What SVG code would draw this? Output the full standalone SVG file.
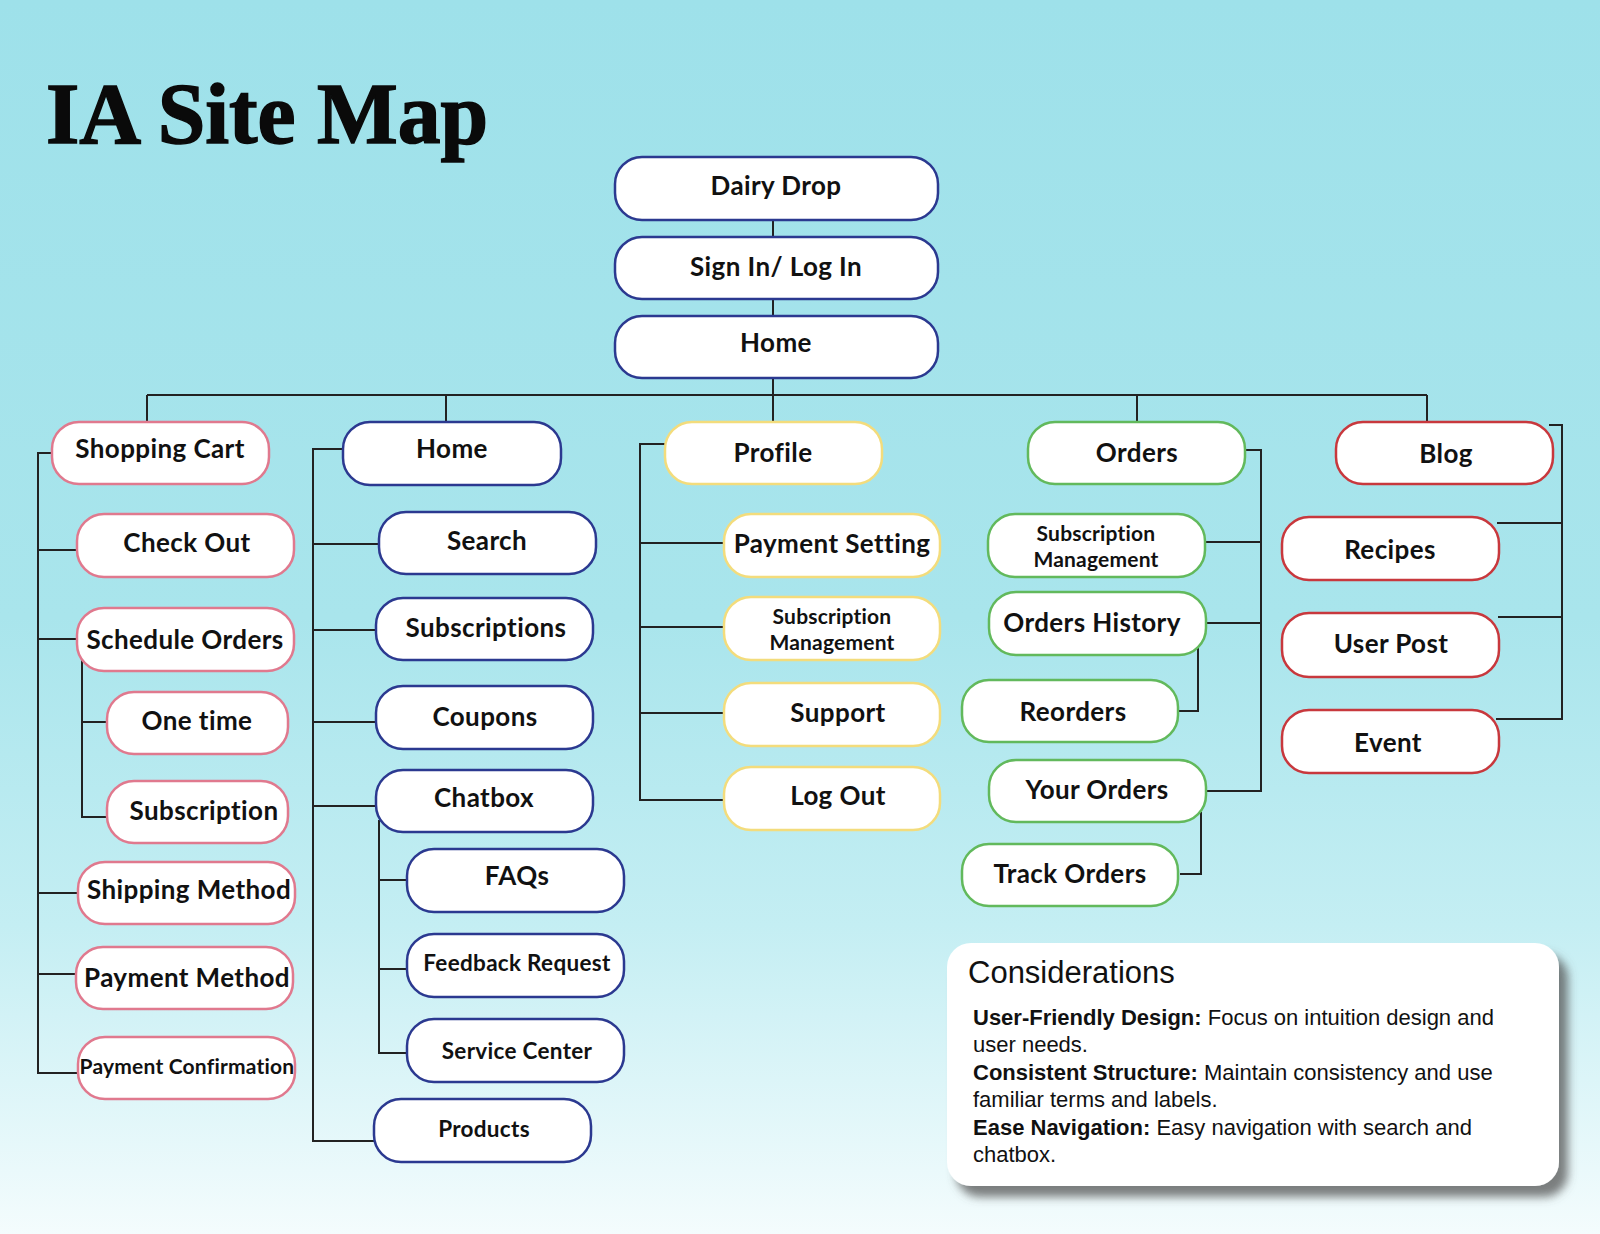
<svg xmlns="http://www.w3.org/2000/svg" width="1600" height="1234" viewBox="0 0 1600 1234">
<defs>
<linearGradient id="bg" x1="0" y1="0" x2="0" y2="1">
<stop offset="0" stop-color="#9EE1EA"/>
<stop offset="0.5" stop-color="#A9E5EC"/>
<stop offset="0.75" stop-color="#C4EEF3"/>
<stop offset="1" stop-color="#F4FCFD"/>
</linearGradient>
<filter id="shadow" x="-10%" y="-10%" width="125%" height="135%">
<feDropShadow dx="9" dy="11" stdDeviation="5" flood-color="#555" flood-opacity="0.75"/>
</filter>
<style>
.n rect{fill:#fff;stroke-width:2.5}
.b rect{stroke:#2B3990}
.p rect{stroke:#E0798E}
.y rect{stroke:#F3DC7C}
.g rect{stroke:#62B95C}
.r rect{stroke:#C8383D}
.n text{font-family:Lato,"Open Sans",sans-serif;font-weight:700;font-size:26px;letter-spacing:0.4px;fill:#111;text-anchor:middle}
.n text.s{font-size:22.5px;letter-spacing:0.3px}
.n text.xs{font-size:21px;letter-spacing:0.2px}
#connectors path{fill:none;stroke:#222;stroke-width:2}
.title{font-family:"Liberation Serif",serif;font-weight:700;font-size:86px;fill:#0a0a0a;stroke:#0a0a0a;stroke-width:1.5}
.ct{font-family:"Liberation Sans",Arial,sans-serif;font-size:31px;fill:#111}
.cb{font-family:"Liberation Sans",Arial,sans-serif;font-size:22px;fill:#111}
.cb tspan.k{font-weight:700}
</style>
</defs>
<rect x="0" y="0" width="1600" height="1234" fill="url(#bg)"/>
<text class="title" x="46" y="143" textLength="442" lengthAdjust="spacingAndGlyphs">IA Site Map</text>

<g id="connectors">
<path d="M773 220V237M773 299V316M773 378V422"/>
<path d="M147 395H1427M147 395V422M446 395V422M1137 395V422M1427 395V422"/>
<path d="M52 453H38V1073H78M38 550H77M38 639H77M38 893H78M38 974H76"/>
<path d="M82 660V817H107M82 722H107"/>
<path d="M343 449H313V1141H374M313 544H379M313 630H376M313 722H376M313 806H376"/>
<path d="M379 820V1053H407M379 880H407M379 969H407"/>
<path d="M665 444H640V800H724M640 543H724M640 627H724M640 713H724"/>
<path d="M1245 450H1261V791H1206M1205 542H1261M1206 623H1261"/>
<path d="M1198 648V711H1178M1201 812V874H1180"/>
<path d="M1549 425H1562V719H1496M1497 523H1562M1498 617H1562"/>
</g>

<g id="n-dairy" class="n b"><rect x="615" y="157" width="323" height="63" rx="27"/><text x="776" y="195">Dairy Drop</text></g>
<g id="n-signin" class="n b"><rect x="615" y="237" width="323" height="62" rx="27"/><text x="776" y="276">Sign In/ Log In</text></g>
<g id="n-home" class="n b"><rect x="615" y="316" width="323" height="62" rx="27"/><text x="776" y="352">Home</text></g>

<g id="n-cart" class="n p"><rect x="52" y="422" width="217" height="62" rx="27"/><text x="160" y="458">Shopping Cart</text></g>
<g id="n-checkout" class="n p"><rect x="77" y="514" width="217" height="63" rx="27"/><text x="187" y="552">Check Out</text></g>
<g id="n-schedule" class="n p"><rect x="77" y="608" width="217" height="63" rx="27"/><text x="185" y="649">Schedule Orders</text></g>
<g id="n-onetime" class="n p"><rect x="107" y="692" width="181" height="62" rx="27"/><text x="197" y="730">One time</text></g>
<g id="n-subscription" class="n p"><rect x="107" y="781" width="181" height="62" rx="27"/><text x="204" y="820">Subscription</text></g>
<g id="n-shipping" class="n p"><rect x="78" y="862" width="217" height="62" rx="27"/><text x="189" y="899">Shipping Method</text></g>
<g id="n-paymethod" class="n p"><rect x="76" y="947" width="217" height="62" rx="27"/><text x="187" y="987">Payment Method</text></g>
<g id="n-payconfirm" class="n p"><rect x="78" y="1037" width="217" height="62" rx="27"/><text class="xs" x="187" y="1074">Payment Confirmation</text></g>

<g id="n-home2" class="n b"><rect x="343" y="422" width="218" height="63" rx="27"/><text x="452" y="458">Home</text></g>
<g id="n-search" class="n b"><rect x="379" y="512" width="217" height="62" rx="27"/><text x="487" y="550">Search</text></g>
<g id="n-subscriptions" class="n b"><rect x="376" y="598" width="217" height="62" rx="27"/><text x="486" y="637">Subscriptions</text></g>
<g id="n-coupons" class="n b"><rect x="376" y="686" width="217" height="63" rx="27"/><text x="485" y="726">Coupons</text></g>
<g id="n-chatbox" class="n b"><rect x="376" y="770" width="217" height="62" rx="27"/><text x="484" y="807">Chatbox</text></g>
<g id="n-faqs" class="n b"><rect x="407" y="849" width="217" height="63" rx="27"/><text x="517" y="885">FAQs</text></g>
<g id="n-feedback" class="n b"><rect x="407" y="934" width="217" height="63" rx="27"/><text class="s" x="517" y="971">Feedback Request</text></g>
<g id="n-service" class="n b"><rect x="407" y="1019" width="217" height="63" rx="27"/><text class="s" x="517" y="1059">Service Center</text></g>
<g id="n-products" class="n b"><rect x="374" y="1099" width="217" height="63" rx="27"/><text class="s" x="484" y="1137">Products</text></g>

<g id="n-profile" class="n y"><rect x="665" y="422" width="217" height="62" rx="27"/><text x="773" y="462">Profile</text></g>
<g id="n-paysetting" class="n y"><rect x="724" y="514" width="216" height="63" rx="27"/><text x="832" y="553">Payment Setting</text></g>
<g id="n-submgmt1" class="n y"><rect x="724" y="597" width="216" height="63" rx="27"/><text class="xs" x="832" y="624">Subscription</text><text class="xs" x="832" y="650">Management</text></g>
<g id="n-support" class="n y"><rect x="724" y="683" width="216" height="63" rx="27"/><text x="838" y="722">Support</text></g>
<g id="n-logout" class="n y"><rect x="724" y="767" width="216" height="63" rx="27"/><text x="838" y="805">Log Out</text></g>

<g id="n-orders" class="n g"><rect x="1028" y="422" width="217" height="62" rx="27"/><text x="1137" y="462">Orders</text></g>
<g id="n-submgmt2" class="n g"><rect x="988" y="514" width="217" height="63" rx="27"/><text class="xs" x="1096" y="541">Subscription</text><text class="xs" x="1096" y="567">Management</text></g>
<g id="n-history" class="n g"><rect x="989" y="592" width="217" height="63" rx="27"/><text x="1092" y="632">Orders History</text></g>
<g id="n-reorders" class="n g"><rect x="962" y="680" width="216" height="62" rx="27"/><text x="1073" y="721">Reorders</text></g>
<g id="n-yourorders" class="n g"><rect x="989" y="760" width="217" height="62" rx="27"/><text x="1097" y="799">Your Orders</text></g>
<g id="n-track" class="n g"><rect x="962" y="844" width="216" height="62" rx="27"/><text x="1070" y="883">Track Orders</text></g>

<g id="n-blog" class="n r"><rect x="1336" y="422" width="217" height="62" rx="27"/><text x="1446" y="463">Blog</text></g>
<g id="n-recipes" class="n r"><rect x="1282" y="517" width="217" height="63" rx="27"/><text x="1390" y="559">Recipes</text></g>
<g id="n-userpost" class="n r"><rect x="1282" y="613" width="217" height="64" rx="27"/><text x="1391" y="653">User Post</text></g>
<g id="n-event" class="n r"><rect x="1282" y="710" width="217" height="63" rx="27"/><text x="1388" y="752">Event</text></g>

<g id="considerations">
<rect x="947" y="943" width="612" height="243" rx="24" fill="#fff" filter="url(#shadow)"/>
<text class="ct" x="968" y="983">Considerations</text>
<text class="cb" x="973" y="1025"><tspan class="k">User-Friendly Design:</tspan> Focus on intuition design and</text>
<text class="cb" x="973" y="1052">user needs.</text>
<text class="cb" x="973" y="1080"><tspan class="k">Consistent Structure:</tspan> Maintain consistency and use</text>
<text class="cb" x="973" y="1107">familiar terms and labels.</text>
<text class="cb" x="973" y="1135"><tspan class="k">Ease Navigation:</tspan> Easy navigation with search and</text>
<text class="cb" x="973" y="1162">chatbox.</text>
</g>
</svg>
